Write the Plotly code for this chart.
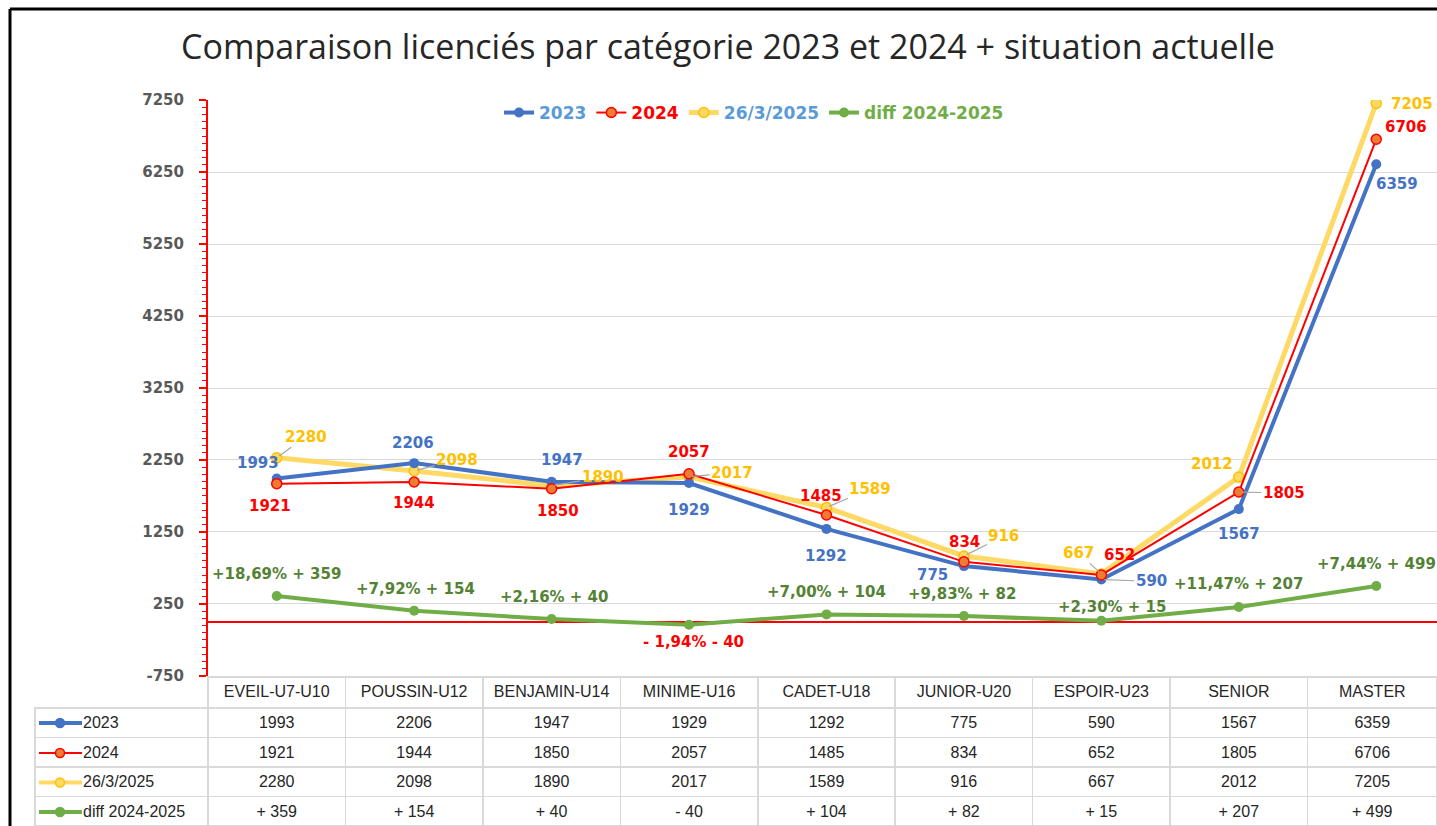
import plotly.graph_objects as go

# ---------------- data ----------------
categories = ["EVEIL-U7-U10", "POUSSIN-U12", "BENJAMIN-U14", "MINIME-U16", "CADET-U18",
              "JUNIOR-U20", "ESPOIR-U23", "SENIOR", "MASTER"]
v2023 = [1993, 2206, 1947, 1929, 1292, 775, 590, 1567, 6359]
v2024 = [1921, 1944, 1850, 2057, 1485, 834, 652, 1805, 6706]
v2025 = [2280, 2098, 1890, 2017, 1589, 916, 667, 2012, 7205]
diff = [359, 154, 40, -40, 104, 82, 15, 207, 499]
diff_txt = ["+ 359", "+ 154", "+ 40", "- 40", "+ 104", "+ 82", "+ 15", "+ 207", "+ 499"]
diff_pct = ["+18,69%", "+7,92%", "+2,16%", "- 1,94%", "+7,00%", "+9,83%", "+2,30%", "+11,47%", "+7,44%"]
series_names = ["2023", "2024", "26/3/2025", "diff\u00a02024-2025"]
y_ticks = [-750, 250, 1250, 2250, 3250, 4250, 5250, 6250, 7250]
y_tick_labels = ["-750", "250", "1250", "2250", "3250", "4250", "5250", "6250", "7250"]

# ---------------- style ----------------
W, H = 1437, 826
X0, Y_TOP, Y_BOT = 208, 100, 676
BLUE, RED, YEL, GREEN = "#4472C4", "#FF0000", "#FFD966", "#70AD47"
LBL_BLUE, LBL_RED, LBL_YEL, LBL_GREEN = "#4472C4", "#FF0000", "#FFC000", "#548235"
LEADER = "#A6A6A6"
LBL_FONT = dict(family="DejaVu Sans", size=15, weight="bold")


def px(x):
    return x / W


def py(y):
    return 1 - y / H


fig = go.Figure()

# yellow first (drawn underneath), then blue, red, green
fig.add_trace(go.Scatter(x=categories, y=v2025, mode="lines+markers", name="<span style='color:#5B9BD5'>26/3/2025</span>",
                         legendrank=3, line=dict(color=YEL, width=5),
                         marker=dict(size=10, color=YEL, line=dict(color="#FFC000", width=1.5))))
fig.add_trace(go.Scatter(x=categories, y=v2023, mode="lines+markers", name="<span style='color:#5B9BD5'>2023</span>",
                         legendrank=1, line=dict(color=BLUE, width=4),
                         marker=dict(size=10, color=BLUE)))
fig.add_trace(go.Scatter(x=categories, y=v2024, mode="lines+markers", name="<span style='color:#FF0000'>2024</span>",
                         legendrank=2, line=dict(color=RED, width=2),
                         marker=dict(size=10, color="#ED7D31", line=dict(color=RED, width=1.5))))
fig.add_trace(go.Scatter(x=categories, y=diff, mode="lines+markers", name="<span style='color:#70AD47'>diff 2024-2025</span>",
                         legendrank=4, line=dict(color=GREEN, width=4),
                         marker=dict(size=10, color=GREEN)))

# label offsets (dx, dy in screen pixels, dy positive downward), leader flag
off_2023 = [(-19, -15, 0), (-1, -20, 0), (10, -22, 0), (0, 27, 0), (0, 27, 0), (-31, 9, 0), (50, 2, 1), (0, 25, 0), (21, 20, 0)]
off_2024 = [(-7, 22, 0), (0, 21, 0), (6, 22, 0), (0, -22, 0), (-5, -19, 0), (1, -20, 0), (18, -20, 0), (45, 1, 1), (30, -12, 0)]
off_2025 = [(29, -21, 1), (43, -11, 1), (51, -9, 1), (43, -4, 1), (44, -19, 1), (40, -20, 1), (-23, -21, 1), (-27, -13, 0), (36, 1, 0)]
off_diff = [(0, -22, 0), (1, -22, 0), (3, -22, 0), (4, 17, 0), (0, -22, 0), (-1, -22, 0), (11, -14, 0), (0, -23, 0), (0, -22, 0)]


def add_labels(values, texts, offsets, colors):
    for c, v, t, (dx, dy, lead), col in zip(categories, values, texts, offsets, colors):
        if lead:
            fig.add_annotation(x=c, y=v, xref="x", yref="y", text=t, showarrow=True,
                               ax=dx, ay=dy, arrowhead=0, arrowwidth=1.2, arrowcolor=LEADER,
                               standoff=3, font=dict(LBL_FONT, color=col))
        else:
            fig.add_annotation(x=c, y=v, xref="x", yref="y", text=t, showarrow=False,
                               xshift=dx, yshift=-dy, font=dict(LBL_FONT, color=col))


add_labels(v2023, [str(v) for v in v2023], off_2023, [LBL_BLUE] * 9)
add_labels(v2024, [str(v) for v in v2024], off_2024, [LBL_RED] * 9)
add_labels(v2025, [str(v) for v in v2025], off_2025, [LBL_YEL] * 9)
add_labels(diff, [f"{p} {d}" for p, d in zip(diff_pct, diff_txt)], off_diff,
           [LBL_RED if d < 0 else LBL_GREEN for d in diff])

# ---------------- data table ----------------
col_w = 137.44
widths = [X0 - 35] + [col_w] * 8 + [W - (X0 + 8 * col_w)]
nb = "\u00a0" * 9
row_labels = [nb + s for s in series_names]
cells = [row_labels] + [[str(a), str(b), str(c), d] for a, b, c, d in zip(v2023, v2024, v2025, diff_txt)]
TBL_FONT = dict(family="Liberation Sans Narrow, Liberation Sans, sans-serif", size=16, color="#262626")
fig.add_trace(go.Table(
    domain=dict(x=[px(35), 1], y=[0, py(677)]),
    columnwidth=widths,
    header=dict(values=[""] + categories, height=31, align="center",
                line=dict(color=["rgba(0,0,0,0)"] + ["#D9D9D9"] * 9, width=1.5),
                fill=dict(color=["rgba(0,0,0,0)"] + ["white"] * 9), font=TBL_FONT),
    cells=dict(values=cells, height=29.5, align=["left"] + ["center"] * 9,
               line=dict(color="#D9D9D9", width=1.5), fill=dict(color="white"), font=TBL_FONT),
))

# legend keys inside the table
key_styles = [(BLUE, BLUE, BLUE, 4), (RED, "#ED7D31", RED, 2), (YEL, YEL, "#FFC000", 4), (GREEN, GREEN, GREEN, 4)]
row_centers = [723, 753, 782.5, 812]
shapes = []
for (lc, fc, oc, lw), yc in zip(key_styles, row_centers):
    shapes.append(dict(type="line", xref="paper", yref="paper", x0=px(39), x1=px(82), y0=py(yc), y1=py(yc),
                       line=dict(color=lc, width=lw)))
    shapes.append(dict(type="circle", xref="paper", yref="paper", x0=px(55.5), x1=px(64.5),
                       y0=py(yc + 4.5), y1=py(yc - 4.5), fillcolor=fc, line=dict(color=oc, width=1.5)))
# outer frame (black border)
shapes.append(dict(type="line", xref="paper", yref="paper", x0=px(10), x1=px(10), y0=0, y1=py(9),
                   line=dict(color="black", width=3)))
shapes.append(dict(type="line", xref="paper", yref="paper", x0=px(10), x1=1, y0=py(9), y1=py(9),
                   line=dict(color="black", width=3)))

fig.update_layout(
    width=W, height=H,
    margin=dict(l=0, r=0, t=0, b=0),
    paper_bgcolor="white", plot_bgcolor="white",
    shapes=shapes,
    title=dict(text="Comparaison licenciés par catégorie 2023 et 2024 + situation actuelle",
               x=px(728), xref="paper", xanchor="center", y=py(47), yref="paper", yanchor="middle",
               font=dict(family="Open Sans", size=34, color="#262626")),
    legend=dict(orientation="h", x=px(754), xanchor="center", y=py(113), yanchor="middle",
                bgcolor="rgba(0,0,0,0)", font=dict(family="DejaVu Sans", size=17, weight="bold"),
                itemwidth=30, traceorder="normal"),
    showlegend=True,
    xaxis=dict(type="category", domain=[px(X0), 1], range=[-0.5, 8.442], showgrid=False,
               showticklabels=False, zeroline=False, showline=False, ticks=""),
    yaxis=dict(domain=[py(Y_BOT), py(Y_TOP)], range=[-752, 7252], tickmode="array",
               tickvals=y_ticks, ticktext=y_tick_labels,
               showgrid=True, gridcolor="#D9D9D9", gridwidth=1,
               zeroline=True, zerolinecolor=RED, zerolinewidth=1.5,
               showline=True, linecolor=RED, linewidth=2,
               ticks="outside", ticklen=7, tickcolor=RED, tickwidth=1.5,
               minor=dict(tickmode="linear", dtick=100, tick0=250, ticks="outside", ticklen=4,
                          tickcolor=RED, tickwidth=1, showgrid=False),
               tickfont=dict(family="DejaVu Sans", size=15, color="#595959", weight="bold"),
               ticklabelstandoff=12, automargin=False),
)

fig.write_html("out.html", config={"displayModeBar": False},
               post_script="document.body.style.margin='0px';document.body.style.overflow='hidden';")
